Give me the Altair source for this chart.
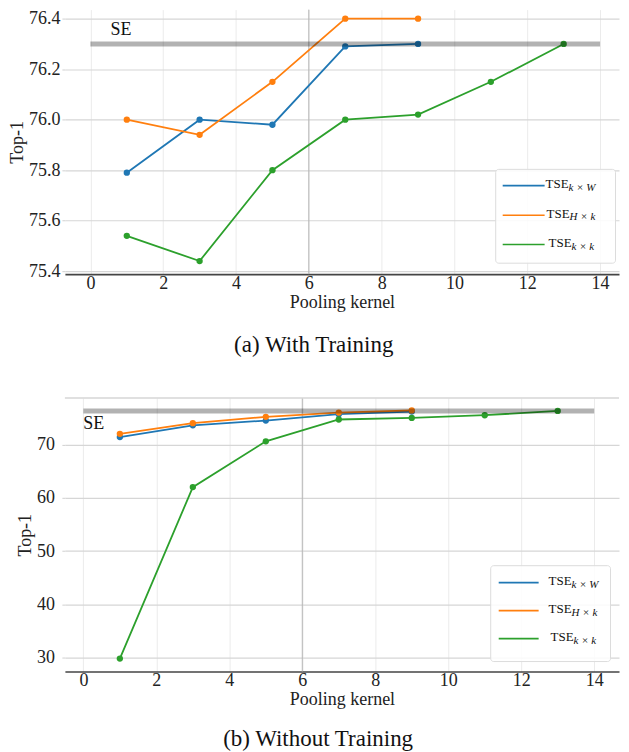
import altair as alt
import pandas as pd

# ---------------- data ----------------
series = ["TSE k×W", "TSE H×k", "TSE k×k"]
legend_main = ["TSE", "TSE", "TSE"]
legend_sub = ["k × W", "H × k", "k × k"]
colors = ["#1f77b4", "#ff7f0e", "#2ca02c"]

kernels_short = [1, 3, 5, 7, 9]
kernels_long = [1, 3, 5, 7, 9, 11, 13]

# (a) With Training
a_kxw = [75.79, 76.00, 75.98, 76.29, 76.30]
a_hxk = [76.00, 75.94, 76.15, 76.40, 76.40]
a_kxk = [75.54, 75.44, 75.80, 76.00, 76.02, 76.15, 76.30]

# (b) Without Training
b_kxw = [71.4, 73.6, 74.5, 75.7, 76.2]
b_hxk = [72.0, 74.0, 75.2, 76.0, 76.4]
b_kxk = [29.8, 62.0, 70.6, 74.7, 75.0, 75.5, 76.3]

se_value = 76.3
se_span = [0, 14]
se_label = "SE"
a_se_text = [0.55, 76.355]
b_se_text = [0.0, 73.9]
highlight_x = [6]

x_ticks = [0, 2, 4, 6, 8, 10, 12, 14]
a_y_ticks = [75.4, 75.6, 75.8, 76.0, 76.2, 76.4]
b_y_ticks = [30, 40, 50, 60, 70]

# visible axis limits (the reference figure is cropped at its edges)
a_x_dom = [-0.7, 14.52]
b_x_dom = [-0.506, 14.68]
a_y_dom = [75.388, 76.436]
b_y_dom = [27.37, 78.74]

captions = ["(a) With Training", "(b) Without Training"]

FONT = "Liberation Serif"


def long_df(kxw, hxk, kxk):
    rows = []
    for name, ks, vals in [(series[0], kernels_short, kxw),
                           (series[1], kernels_short, hxk),
                           (series[2], kernels_long, kxk)]:
        for k, v in zip(ks, vals):
            rows.append({"kernel": k, "top1": v, "series": name})
    return pd.DataFrame(rows)


def panel(kxw, hxk, kxk, y_ticks, y_fmt, caption, se_text, xdom, ydom, width, height,
          label_pad, leg, frame, cap_offset):
    df = long_df(kxw, hxk, kxk)

    xs = alt.Scale(domain=xdom, nice=False, zero=False)
    ys = alt.Scale(domain=ydom, nice=False, zero=False)
    xaxis = alt.Axis(values=x_ticks, format="d", title="Pooling kernel",
                     labelFont=FONT, labelFontSize=18, labelColor="#222222",
                     titleFont=FONT, titleFontSize=18, titleFontWeight="normal",
                     titleColor="#222222", titlePadding=1, labelPadding=0,
                     ticks=False, domain=True, domainColor="#444444", domainWidth=1.6,
                     grid=True, gridColor="#ebebeb", gridWidth=1)
    yaxis = alt.Axis(values=y_ticks, format=y_fmt, title="Top-1",
                     labelFont=FONT, labelFontSize=18, labelColor="#222222",
                     titleFont=FONT, titleFontSize=18, titleFontWeight="normal",
                     titleColor="#222222", titlePadding=2, labelPadding=label_pad,
                     ticks=True, tickSize=3, tickColor="#d0d0d0",
                     domain=False, grid=True, gridColor="#d6d6d6", gridWidth=1.2)

    def X(field):
        return alt.X(field, scale=xs, axis=xaxis)

    def Y(field):
        return alt.Y(field, scale=ys, axis=yaxis)

    color = alt.Color("series:N", scale=alt.Scale(domain=series, range=colors), legend=None)

    vline = alt.Chart(pd.DataFrame({"x": highlight_x})).mark_rule(
        color="#b5b5b5", strokeWidth=1).encode(x=X("x:Q"))

    lines = alt.Chart(df).mark_line(strokeWidth=1.8).encode(
        x=X("kernel:Q"), y=Y("top1:Q"), color=color, detail="series:N")
    pts = alt.Chart(df).mark_point(filled=True, size=40, opacity=1).encode(
        x=X("kernel:Q"), y=Y("top1:Q"), color=color)

    se_df = pd.DataFrame({"x": [se_span[0]], "x2": [se_span[1]], "y": [se_value]})
    se_line = alt.Chart(se_df).mark_rule(color="#000000", opacity=0.3, strokeWidth=5).encode(
        x=X("x:Q"), x2="x2:Q", y=Y("y:Q"))

    se_t = alt.Chart(pd.DataFrame({"x": [se_text[0]], "y": [se_text[1]], "t": [se_label]})).mark_text(
        font=FONT, fontSize=18, align="left", baseline="middle", color="#111111").encode(
        x=X("x:Q"), y=Y("y:Q"), text="t:N")

    box = alt.Chart(pd.DataFrame({"a": [0]})).mark_rect(
        fill="white", fillOpacity=0.85, stroke="#dcdcdc", strokeWidth=1, cornerRadius=3).encode(
        x=alt.value(leg["box"][0]), x2=alt.value(leg["box"][1]),
        y=alt.value(leg["box"][2]), y2=alt.value(leg["box"][3]))

    layers = [vline, lines, pts, se_line, se_t]
    if frame:
        layers.append(alt.Chart(pd.DataFrame({"a": [0]})).mark_rule(
            color="#d6d6d6", strokeWidth=1.5).encode(
            x=alt.value(0), x2=alt.value(width), y=alt.value(0)))
    layers.append(box)
    for i in range(3):
        ry = leg["rows"][i]
        tx = leg["text_x"][i]
        d = pd.DataFrame({"main": [legend_main[i]], "sub": [legend_sub[i]]})
        layers.append(alt.Chart(d).mark_rule(color=colors[i], strokeWidth=1.6).encode(
            x=alt.value(leg["line"][0]), x2=alt.value(leg["line"][1]), y=alt.value(ry)))
        layers.append(alt.Chart(d).mark_text(
            font=FONT, fontSize=13, align="left", baseline="alphabetic", color="#111111").encode(
            x=alt.value(tx), y=alt.value(ry + 2.5), text="main:N"))
        layers.append(alt.Chart(d).mark_text(
            font=FONT, fontSize=11, fontStyle="italic", align="left", baseline="alphabetic",
            color="#111111").encode(
            x=alt.value(tx + 23), y=alt.value(ry + 5), text="sub:N"))

    return alt.layer(*layers).properties(
        width=width, height=height,
        title=alt.TitleParams(caption, orient="bottom", anchor="middle", frame="bounds",
                              font=FONT, fontSize=23, fontWeight="normal",
                              color="#111111", offset=cap_offset))


leg_a = {"box": [431.5, 551.5, 160, 254], "line": [438.5, 480.5], "rows": [176.3, 206, 235.3],
         "text_x": [481.5, 482.5, 484.5]}
leg_b = {"box": [426.5, 546.5, 168, 264], "line": [434.5, 474.5], "rows": [185, 213, 241],
         "text_x": [484.5, 484.5, 486.5]}

top = panel(a_kxw, a_hxk, a_kxk, a_y_ticks, ".1f", captions[0], a_se_text, a_x_dom, a_y_dom,
            555, 265, 2, leg_a, False, 23)
bottom = panel(b_kxw, b_hxk, b_kxk, b_y_ticks, "d", captions[1], b_se_text, b_x_dom, b_y_dom,
               555, 274, 7.5, leg_b, True, 20)

chart = alt.vconcat(top, bottom, spacing=38).properties(
    padding={"left": 0, "top": 0, "right": 0, "bottom": 0}
).configure_view(stroke="transparent")

chart.save("out.html", embed_options={"renderer": "svg", "actions": False})
